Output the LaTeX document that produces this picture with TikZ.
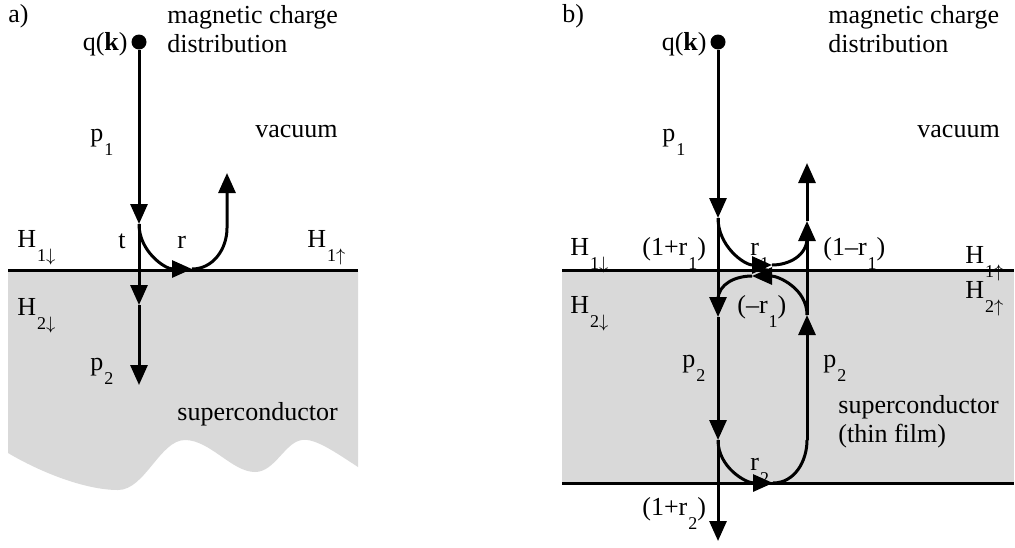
\documentclass[tikz,border=0pt]{standalone}
\usepackage{fontspec}
\setmainfont{Liberation Serif}
\usepackage{tikz}
\usetikzlibrary{arrows.meta}
\definecolor{filmgray}{HTML}{D9D9D9}
\newcommand{\lowsub}[2]{#1\kern0.5pt\raisebox{-7pt}{\fontsize{9}{10}\selectfont #2}}
\tikzset{
  ray/.style={line width=1.5pt,-{Triangle[length=10pt,width=8.5pt]}},
  wire/.style={line width=1.5pt},
  charge/.style={circle,fill,inner sep=0pt,minimum size=7.5pt},
  lbl/.style={anchor=base west,inner sep=0pt,font=\fontsize{13}{15}\selectfont},
  lble/.style={lbl,anchor=base east}
}

\begin{document}
\begin{tikzpicture}[x=0.5pt,y=-0.5pt]
\useasboundingbox (0,0) rectangle (1015,547);
% a) half space
\fill[filmgray] (8,270) -- (358,270) -- (358,467) .. controls (335,452) and (315,438) .. (302,440)
  .. controls (285,442) and (275,472) .. (255,472) .. controls (232,472) and (210,440) .. (185,440)
  .. controls (160,440) and (145,490) .. (118,490) .. controls (85,490) and (40,472) .. (8,453) -- cycle;
\draw[wire] (8,270) -- (358,270);
\node[charge] (qa) at (139,42) {};
\coordinate (ta) at (139,224);
\coordinate (tb) at (139,305);
\coordinate (tc) at (139,385);
\coordinate (ra) at (192,269);
\coordinate (rb) at (227,228);
\coordinate (rc) at (227,173);
\node[lbl] (la) at (8,22) {a)};
\node[lble] (qka) at (128,50) {q(\textbf{k})};
\node[lbl] (mca) at (167,23) {magnetic charge};
\node[lbl] (dsa) at (167,52) {distribution};
\node[lbl] (p1a) at (90,141) {\lowsub{p}{1}};
\node[lbl] (vaca) at (255,137) {vacuum};
\node[lbl] (tl) at (118,248) {t};
\node[lbl] (rl) at (177,248) {r};
\node[lbl] (H1da) at (17,247) {\lowsub{H}{1$\downarrow$}};
\node[lbl] (H1ua) at (307,247) {\lowsub{H}{1$\uparrow$}};
\node[lbl] (H2da) at (17,315) {\lowsub{H}{2$\downarrow$}};
\node[lbl] (p2a) at (90,370) {\lowsub{p}{2}};
\node[lbl] (sca) at (177,420) {superconductor};
\draw[ray] (qa) -- (ta);
\draw[ray] (ta) -- (tb);
\draw[ray] (tb) -- (tc);
\draw[ray] (ta) to[out=-90,in=180] (ra);
\draw[ray] (ra) to[out=0,in=-90] (rb) -- (rc);
% b) thin film
\fill[filmgray] (562,270) rectangle (1014,483);
\draw[wire] (562,270) -- (1014,270);
\draw[wire] (562,483) -- (1014,483);
\node[charge] (qb) at (718,42) {};
\coordinate (l1) at (718,218);
\coordinate (l2) at (718,317);
\coordinate (l3) at (718,440);
\coordinate (l4) at (718,541);
\coordinate (u0) at (807,163);
\coordinate (u1) at (807,221);
\coordinate (u1b) at (807,238);
\coordinate (u2) at (807,315);
\coordinate (u3) at (807,440);
\coordinate (r1b) at (772,265);
\coordinate (m1t) at (752,276);
\coordinate (m1e) at (718,300);
\coordinate (r2b) at (773,483);
\node[lbl] (lb) at (562,22) {b)};
\node[lble] (qkb) at (707,50) {q(\textbf{k})};
\node[lbl] (mcb) at (828,23) {magnetic charge};
\node[lbl] (dsb) at (828,52) {distribution};
\node[lbl] (p1b) at (662,141) {\lowsub{p}{1}};
\node[lbl] (vacb) at (917,137) {vacuum};
\node[lbl] (H1db) at (570,255) {\lowsub{H}{1$\downarrow$}};
\node[lbl] (c1p) at (642,255) {(1+\lowsub{r}{1})};
\node[lbl] (r1l) at (750,255) {\lowsub{r}{1}};
\node[lbl] (c1m) at (823,255) {(1–\lowsub{r}{1})};
\node[lbl] (H1ub) at (965,263) {\lowsub{H}{1$\uparrow$}};
\node[lbl] (H2ub) at (965,298) {\lowsub{H}{2$\uparrow$}};
\node[lbl] (H2db) at (570,313) {\lowsub{H}{2$\downarrow$}};
\node[lbl] (cm1) at (737,313) {(–\lowsub{r}{1})};
\node[lbl] (p2l) at (682,367) {\lowsub{p}{2}};
\node[lbl] (p2r) at (823,367) {\lowsub{p}{2}};
\node[lbl] (scb) at (838,413) {superconductor};
\node[lbl] (tfb) at (838,442) {(thin film)};
\node[lbl] (r2l) at (750,470) {\lowsub{r}{2}};
\node[lbl] (c2p) at (642,515) {(1+\lowsub{r}{2})};
\draw[ray] (qb) -- (l1);
\draw[ray] (l1) -- (l2);
\draw[ray] (l2) -- (l3);
\draw[ray] (l3) -- (l4);
\draw[ray] (l1) to[out=-90,in=180] (r1b);
\draw[wire] (r1b) to[out=0,in=-90] (u1b);
\draw[ray] (u3) -- (u2);
\draw[ray] (u2) -- (u1);
\draw[ray] (u1) -- (u0);
\draw[ray] (u2) to[out=90,in=0] (m1t);
\draw[wire] (m1t) to[out=180,in=90] (m1e);
\draw[ray] (l3) to[out=-90,in=180] (r2b);
\draw[wire] (r2b) to[out=0,in=-90] (u3);
\end{tikzpicture}
\end{document}
